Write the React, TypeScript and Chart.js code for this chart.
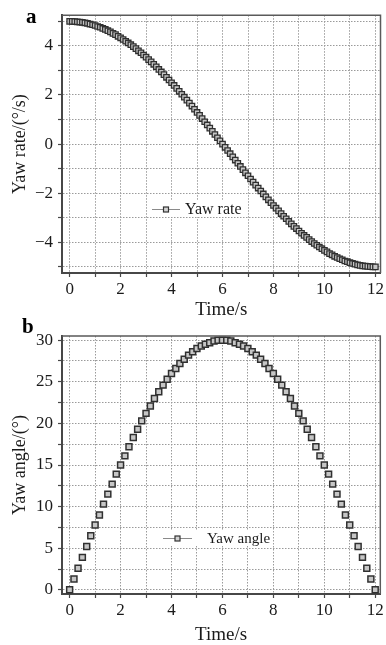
import React, { useEffect, useRef } from 'react';
import { Chart, registerables } from 'chart.js';

Chart.register(...registerables);

// ---------- data ----------
const TIME_A = [
  0, 0.1, 0.2, 0.3, 0.4, 0.5, 0.6, 0.7, 0.8, 0.9,
  1, 1.1, 1.2, 1.3, 1.4, 1.5, 1.6, 1.7, 1.8, 1.9,
  2, 2.1, 2.2, 2.3, 2.4, 2.5, 2.6, 2.7, 2.8, 2.9,
  3, 3.1, 3.2, 3.3, 3.4, 3.5, 3.6, 3.7, 3.8, 3.9,
  4, 4.1, 4.2, 4.3, 4.4, 4.5, 4.6, 4.7, 4.8, 4.9,
  5, 5.1, 5.2, 5.3, 5.4, 5.5, 5.6, 5.7, 5.8, 5.9,
  6, 6.1, 6.2, 6.3, 6.4, 6.5, 6.6, 6.7, 6.8, 6.9,
  7, 7.1, 7.2, 7.3, 7.4, 7.5, 7.6, 7.7, 7.8, 7.9,
  8, 8.1, 8.2, 8.3, 8.4, 8.5, 8.6, 8.7, 8.8, 8.9,
  9, 9.1, 9.2, 9.3, 9.4, 9.5, 9.6, 9.7, 9.8, 9.9,
  10, 10.1, 10.2, 10.3, 10.4, 10.5, 10.6, 10.7, 10.8, 10.9,
  11, 11.1, 11.2, 11.3, 11.4, 11.5, 11.6, 11.7, 11.8, 11.9,
  12,
];

const YAW_RATE = [
  5.0, 5.0, 4.99, 4.98, 4.97, 4.96, 4.94, 4.92, 4.89, 4.86,
  4.83, 4.79, 4.76, 4.71, 4.67, 4.62, 4.57, 4.51, 4.46, 4.39,
  4.33, 4.26, 4.19, 4.12, 4.05, 3.97, 3.89, 3.8, 3.72, 3.63,
  3.54, 3.44, 3.35, 3.25, 3.15, 3.04, 2.94, 2.83, 2.72, 2.61,
  2.5, 2.39, 2.27, 2.15, 2.03, 1.91, 1.79, 1.67, 1.55, 1.42,
  1.29, 1.17, 1.04, 0.91, 0.78, 0.65, 0.52, 0.39, 0.26, 0.13,
  0.0, -0.13, -0.26, -0.39, -0.52, -0.65, -0.78, -0.91, -1.04, -1.17,
  -1.29, -1.42, -1.55, -1.67, -1.79, -1.91, -2.03, -2.15, -2.27, -2.39,
  -2.5, -2.61, -2.72, -2.83, -2.94, -3.04, -3.15, -3.25, -3.35, -3.44,
  -3.54, -3.63, -3.72, -3.8, -3.89, -3.97, -4.05, -4.12, -4.19, -4.26,
  -4.33, -4.39, -4.46, -4.51, -4.57, -4.62, -4.67, -4.71, -4.76, -4.79,
  -4.83, -4.86, -4.89, -4.92, -4.94, -4.96, -4.97, -4.98, -4.99, -5.0,
  -5.0,
];

const TIME_B = [
  0, 0.17, 0.33, 0.5, 0.67, 0.83,
  1, 1.17, 1.33, 1.5, 1.67, 1.83,
  2, 2.17, 2.33, 2.5, 2.67, 2.83,
  3, 3.17, 3.33, 3.5, 3.67, 3.83,
  4, 4.17, 4.33, 4.5, 4.67, 4.83,
  5, 5.17, 5.33, 5.5, 5.67, 5.83,
  6, 6.17, 6.33, 6.5, 6.67, 6.83,
  7, 7.17, 7.33, 7.5, 7.67, 7.83,
  8, 8.17, 8.33, 8.5, 8.67, 8.83,
  9, 9.17, 9.33, 9.5, 9.67, 9.83,
  10, 10.17, 10.33, 10.5, 10.67, 10.83,
  11, 11.17, 11.33, 11.5, 11.67, 11.83,
  12,
];

const YAW_ANGLE = [
  0.0, 1.3, 2.6, 3.9, 5.2, 6.5,
  7.8, 9.0, 10.3, 11.5, 12.7, 13.9,
  15.0, 16.1, 17.2, 18.3, 19.3, 20.3,
  21.2, 22.1, 23.0, 23.8, 24.6, 25.3,
  26.0, 26.6, 27.2, 27.7, 28.2, 28.6,
  29.0, 29.3, 29.5, 29.7, 29.9, 30.0,
  30.0, 30.0, 29.9, 29.7, 29.5, 29.3,
  29.0, 28.6, 28.2, 27.7, 27.2, 26.6,
  26.0, 25.3, 24.6, 23.8, 23.0, 22.1,
  21.2, 20.3, 19.3, 18.3, 17.2, 16.1,
  15.0, 13.9, 12.7, 11.5, 10.3, 9.0,
  7.8, 6.5, 5.2, 3.9, 2.6, 1.3,
  0.0,
];

const X_TICKS = [0, 1, 2, 3, 4, 5, 6, 7, 8, 9, 10, 11, 12];
const X_LABELED = [0, 2, 4, 6, 8, 10, 12];
const Y_TICKS_A = [-5, -4, -3, -2, -1, 0, 1, 2, 3, 4, 5];
const Y_LABELED_A = [-4, -2, 0, 2, 4];
const Y_TICKS_B = [0, 2.5, 5, 7.5, 10, 12.5, 15, 17.5, 20, 22.5, 25, 27.5, 30];
const Y_LABELED_B = [0, 5, 10, 15, 20, 25, 30];

// ---------- styling ----------
const SERIF = "'Liberation Serif', 'Times New Roman', 'DejaVu Serif', serif";
const GRID_COLOR = '#9a9a9a';
const AXIS_COLOR = '#474747';
const TEXT_COLOR = '#1a1a1a';

const fmt = (v: number) => (v < 0 ? '\u2212' + Math.abs(v) : String(v));

const decorPlugin = {
  id: 'panelDecor',
  afterDraw(chart: any, _args: any, o: any) {
    const { ctx, chartArea: ca } = chart;
    ctx.save();
    // frame top & right
    ctx.strokeStyle = '#5a5a5a';
    ctx.lineWidth = 1.5;
    ctx.beginPath();
    ctx.moveTo(ca.left, ca.top);
    ctx.lineTo(ca.right, ca.top);
    ctx.lineTo(ca.right, ca.bottom);
    ctx.stroke();

    // panel letter
    ctx.fillStyle = '#000';
    ctx.font = `bold 21px ${SERIF}`;
    ctx.textAlign = 'left';
    ctx.textBaseline = 'alphabetic';
    ctx.fillText(o.letter, o.letterX, o.letterY);

    // legend
    ctx.font = `${o.fontSize}px ${SERIF}`;
    const tw = ctx.measureText(o.text).width;
    ctx.fillStyle = '#fff';
    ctx.fillRect(o.lx1 - 2, o.ly - 8, o.tx + tw + 3 - (o.lx1 - 2), 16);
    ctx.strokeStyle = '#8a8a8a';
    ctx.lineWidth = 1;
    ctx.beginPath();
    ctx.moveTo(o.lx1, o.ly + 0.5);
    ctx.lineTo(o.lx2, o.ly + 0.5);
    ctx.stroke();
    const mx = (o.lx1 + o.lx2) / 2;
    const s = 5;
    ctx.fillStyle = '#d2d2d2';
    ctx.fillRect(mx - s / 2, o.ly - s / 2 + 0.5, s, s);
    ctx.strokeStyle = '#333';
    ctx.lineWidth = 1.2;
    ctx.strokeRect(mx - s / 2, o.ly - s / 2 + 0.5, s, s);
    ctx.fillStyle = TEXT_COLOR;
    ctx.textBaseline = 'middle';
    ctx.fillText(o.text, o.tx, o.ly + 1);
    ctx.restore();
  },
};

function buildConfig(p: any) {
  return {
    type: 'scatter',
    data: {
      datasets: [
        {
          label: p.label,
          data: p.xs.map((t: number, i: number) => ({ x: t, y: p.ys[i] })),
          showLine: false,
          pointStyle: 'rect',
          pointRadius: p.radius,
          pointBorderWidth: p.pointBorder,
          pointBackgroundColor: '#c6c6c6',
          pointBorderColor: '#303030',
        },
      ],
    },
    options: {
      responsive: false,
      animation: false,
      events: [],
      layout: { padding: { top: p.padTop, right: 2, left: 0, bottom: 0 } },
      plugins: {
        legend: { display: false },
        tooltip: { enabled: false },
        panelDecor: p.decor,
      },
      scales: {
        x: {
          type: 'linear',
          min: -0.3,
          max: 12.2,
          afterBuildTicks: (s: any) => {
            s.ticks = X_TICKS.map((v) => ({ value: v }));
          },
          afterFit: (s: any) => {
            s.height = p.xHeight;
          },
          ticks: {
            autoSkip: false,
            maxRotation: 0,
            padding: 2,
            color: TEXT_COLOR,
            font: { family: SERIF, size: 17 },
            callback: (v: number) => (X_LABELED.includes(v) ? fmt(v) : ''),
          },
          grid: {
            color: GRID_COLOR,
            lineWidth: 1,
            tickLength: 4,
            tickColor: AXIS_COLOR,
            tickWidth: 1.2,
          },
          border: { display: true, color: AXIS_COLOR, width: 2, dash: [1.5, 1.5] },
          title: {
            display: true,
            text: 'Time/s',
            color: TEXT_COLOR,
            font: { family: SERIF, size: 19, lineHeight: 1 },
            padding: { top: 0, bottom: p.xTitlePad },
          },
        },
        y: {
          type: 'linear',
          min: p.yMin,
          max: p.yMax,
          afterBuildTicks: (s: any) => {
            s.ticks = p.yTicks.map((v: number) => ({ value: v }));
          },
          afterFit: (s: any) => {
            s.width = 62;
          },
          ticks: {
            autoSkip: false,
            padding: 5,
            color: TEXT_COLOR,
            font: { family: SERIF, size: 17 },
            callback: (v: number) => (p.yLabeled.includes(v) ? fmt(v) : ''),
          },
          grid: {
            color: GRID_COLOR,
            lineWidth: 1,
            tickLength: 4,
            tickColor: AXIS_COLOR,
            tickWidth: 1.2,
          },
          border: { display: true, color: AXIS_COLOR, width: 2, dash: [1.5, 1.5] },
          title: {
            display: true,
            text: p.yTitle,
            color: TEXT_COLOR,
            font: { family: SERIF, size: 18, lineHeight: 1.2 },
            padding: { top: 9, bottom: 0 },
          },
        },
      },
    },
    plugins: [decorPlugin],
  };
}

function Panel({ cfg, width, height, top }: any) {
  const ref = useRef<HTMLCanvasElement | null>(null);
  useEffect(() => {
    if (!ref.current) return;
    const chart = new Chart(ref.current, buildConfig(cfg) as any);
    return () => chart.destroy();
  }, []);
  return (
    <canvas
      ref={ref}
      width={width}
      height={height}
      style={{ position: 'absolute', left: 0, top, width, height, display: 'block' }}
    />
  );
}

const PANEL_A = {
  label: 'Yaw rate',
  xs: TIME_A,
  ys: YAW_RATE,
  radius: 3.8,
  pointBorder: 1.3,
  yMin: -5.25,
  yMax: 5.25,
  yTicks: Y_TICKS_A,
  yLabeled: Y_LABELED_A,
  yTitle: 'Yaw rate/(\u00b0/s)',
  padTop: 14,
  xHeight: 49,
  xTitlePad: 2.5,
  decor: { letter: 'a', letterX: 26, letterY: 23, text: 'Yaw rate', fontSize: 16, lx1: 152, lx2: 180, ly: 209, tx: 185 },
};

// panel b canvas starts at page y = 300
const PANEL_B = {
  label: 'Yaw angle',
  xs: TIME_B,
  ys: YAW_ANGLE,
  radius: 4.2,
  pointBorder: 1.5,
  yMin: -0.5,
  yMax: 30.5,
  yTicks: Y_TICKS_B,
  yLabeled: Y_LABELED_B,
  yTitle: 'Yaw angle/(\u00b0)',
  padTop: 36,
  xHeight: 51,
  xTitlePad: 0.5,
  decor: { letter: 'b', letterX: 22, letterY: 33, text: 'Yaw angle', fontSize: 15, lx1: 163, lx2: 192, ly: 238, tx: 207 },
};

export default function App() {
  return (
    <div style={{ position: 'absolute', left: 0, top: 0, width: 386, height: 645, background: '#fff' }}>
      <Panel cfg={PANEL_A} width={386} height={322} top={0} />
      <Panel cfg={PANEL_B} width={386} height={345} top={300} />
    </div>
  );
}
